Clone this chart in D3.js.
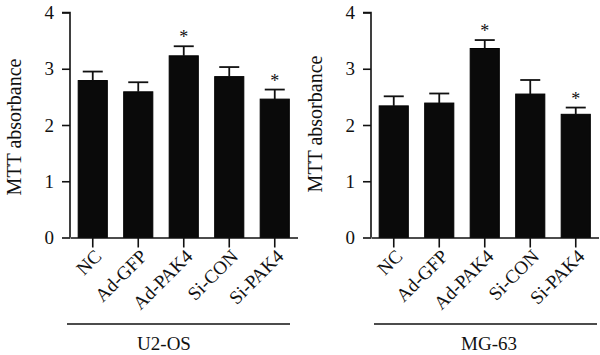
<!DOCTYPE html>
<html>
<head>
<meta charset="utf-8">
<script src="https://cdn.jsdelivr.net/npm/d3@7"></script>
<style>
  body { margin: 0; background: #fff; }
  text { font-family: "Liberation Serif", "Times New Roman", serif; fill: #111; }
</style>
</head>
<body>
<div id="chart"></div>
<script>
// data
const categories = ["NC", "Ad-GFP", "Ad-PAK4", "Si-CON", "Si-PAK4"];
const yTicks = [0, 1, 2, 3, 4];
const u2osMeans = [2.79, 2.59, 3.23, 2.86, 2.46];
const u2osErr = [0.16, 0.17, 0.17, 0.17, 0.17];
const u2osSig = [false, false, true, false, true];
const mg63Means = [2.34, 2.39, 3.36, 2.55, 2.19];
const mg63Err = [0.17, 0.17, 0.15, 0.25, 0.12];
const mg63Sig = [false, false, true, false, true];

const W = 600, H = 355;
const svg = d3.select("#chart").append("svg").attr("width", W).attr("height", H);

// y scale is the same for both panels
const y = d3.scaleLinear().domain([0, 4]).range([237.5, 12.5]);

function drawPanel(opts) {
  const means = opts.means, errs = opts.errs, sig = opts.sig;
  const x = d3.scaleBand()
    .domain(categories)
    .range([opts.left, opts.left + 227.5])
    .paddingInner(0.36)
    .paddingOuter(0.18);
  const g = svg.append("g");

  // bars
  g.selectAll("rect.bar")
    .data(categories)
    .enter().append("rect")
    .attr("class", "bar")
    .attr("x", d => x(d))
    .attr("y", (d, i) => y(means[i]))
    .attr("width", x.bandwidth())
    .attr("height", (d, i) => y(0) - y(means[i]))
    .attr("fill", "#0a0a0a")
    .attr("stroke", "#000")
    .attr("stroke-width", 1);

  // error bars (upper only)
  const cx = d => x(d) + x.bandwidth() / 2;
  g.selectAll("line.err")
    .data(categories)
    .enter().append("line")
    .attr("x1", cx).attr("x2", cx)
    .attr("y1", (d, i) => y(means[i]))
    .attr("y2", (d, i) => y(means[i] + errs[i]))
    .attr("stroke", "#111").attr("stroke-width", 1.8);
  g.selectAll("line.cap")
    .data(categories)
    .enter().append("line")
    .attr("x1", d => cx(d) - 10).attr("x2", d => cx(d) + 10)
    .attr("y1", (d, i) => y(means[i] + errs[i]))
    .attr("y2", (d, i) => y(means[i] + errs[i]))
    .attr("stroke", "#111").attr("stroke-width", 1.8);

  // significance stars
  g.selectAll("text.star")
    .data(categories.filter((d, i) => sig[i]))
    .enter().append("text")
    .attr("x", cx)
    .attr("y", d => {
      const i = categories.indexOf(d);
      return y(means[i] + errs[i]) - 3;
    })
    .attr("text-anchor", "middle")
    .style("font-size", "18px")
    .text("*");

  // y axis
  const yAxis = g.append("g")
    .attr("transform", `translate(${opts.left},0)`)
    .call(d3.axisLeft(y).tickValues(yTicks).tickSize(8).tickPadding(8).tickFormat(d3.format("d")));
  yAxis.select(".domain").attr("stroke", "#111").attr("stroke-width", 1.6).attr("d", `M-8,${y(4)}H0V${y(0)}`);
  yAxis.selectAll(".tick line").attr("stroke", "#111").attr("stroke-width", 1.6);
  yAxis.selectAll(".tick text").style("font-size", "19px").attr("fill", "#111");

  // x axis
  const xAxis = g.append("g")
    .attr("transform", `translate(0,${y(0)})`)
    .call(d3.axisBottom(x).tickSize(10).tickSizeOuter(0));
  xAxis.select(".domain").attr("stroke", "#111").attr("stroke-width", 1.6);
  xAxis.selectAll(".tick line").attr("stroke", "#111").attr("stroke-width", 1.6);
  xAxis.selectAll(".tick text")
    .style("font-size", "19px")
    .attr("fill", "#111")
    .attr("text-anchor", "end")
    .attr("x", 0).attr("y", 0).attr("dy", 0)
    .attr("transform", "translate(10,20) rotate(-45)");

  // y axis title
  g.append("text")
    .attr("transform", `translate(${opts.titleX},${opts.titleY}) rotate(-90)`)
    .attr("text-anchor", "middle")
    .style("font-size", "20px")
    .text("MTT absorbance");

  // group bracket line and name
  g.append("line")
    .attr("x1", opts.lineX1).attr("x2", opts.lineX2)
    .attr("y1", 324).attr("y2", 324)
    .attr("stroke", "#111").attr("stroke-width", 1.6);
  g.append("text")
    .attr("x", opts.nameX).attr("y", 350)
    .attr("text-anchor", "middle")
    .style("font-size", "19px")
    .text(opts.name);
}

drawPanel({ means: u2osMeans, errs: u2osErr, sig: u2osSig, left: 70,
  titleX: 21, titleY: 127, lineX1: 67, lineX2: 290, nameX: 164, name: "U2-OS" });
drawPanel({ means: mg63Means, errs: mg63Err, sig: mg63Sig, left: 371,
  titleX: 322, titleY: 124, lineX1: 374, lineX2: 597, nameX: 489, name: "MG-63" });
</script>
</body>
</html>
